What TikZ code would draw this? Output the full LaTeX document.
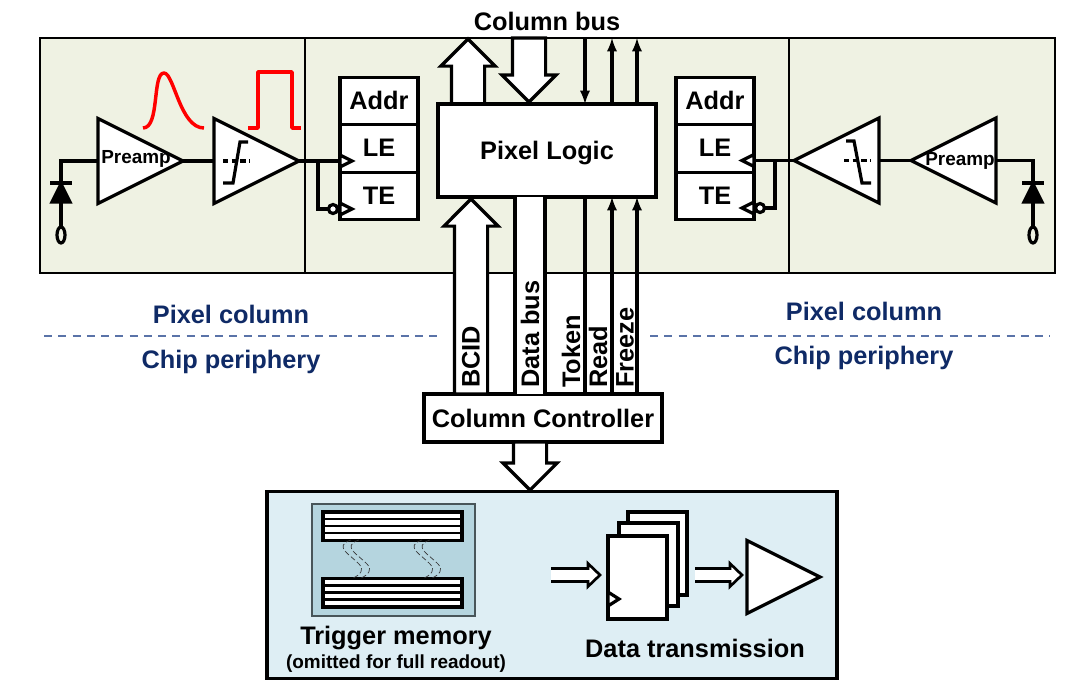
\documentclass[tikz,border=0pt]{standalone}
\usepackage{fontspec}
\setmainfont{Liberation Sans}
\usepackage{xcolor}
\usepackage{tikz}
\usetikzlibrary{positioning, shapes, shapes.geometric, shapes.arrows, arrows}
\definecolor{panelgreen}{HTML}{EFF2E3}
\definecolor{panelblue}{HTML}{DEEEF4}
\definecolor{memblue}{HTML}{B5D5DF}
\definecolor{labelnavy}{HTML}{0F2A66}
\definecolor{dashblue}{HTML}{5A73A8}
\def\px{0.75pt}
\begin{document}
\begin{tikzpicture}[x=0.75pt, y=-0.75pt, node distance=0pt, line join=miter,
    wire/.style={line width=2.4pt},
    lbl/.style={font=\bfseries\fontsize{19}{22}\selectfont, inner sep=0pt},
    small_lbl/.style={font=\bfseries\fontsize{14.2}{17}\selectfont, inner sep=0pt},
    vert_lbl/.style={lbl, rotate=90, anchor=west},
    navy_lbl/.style={lbl, text=labelnavy},
    cell/.style={draw, wire, fill=white, minimum width=78*\px, minimum height=47.5*\px, inner sep=0pt, outer sep=0pt, lbl, text depth=1pt},
    amp/.style={draw, wire, fill=white, isosceles triangle, isosceles triangle stretches, inner sep=0pt, outer sep=0pt, minimum width=85*\px, minimum height=85*\px},
    clk/.style={draw, wire, fill=white, isosceles triangle, isosceles triangle stretches, inner sep=0pt, outer sep=0pt, minimum width=12*\px, minimum height=12*\px},
    bubble/.style={draw, wire, fill=white, circle, inner sep=0pt, outer sep=0pt, minimum size=9*\px},
    diode/.style={draw, wire, fill=black, isosceles triangle, isosceles triangle stretches, shape border rotate=90, inner sep=0pt, outer sep=0pt, minimum width=18*\px, minimum height=18*\px},
    pad/.style={draw, wire, ellipse, inner sep=0pt, outer sep=0pt, minimum width=8*\px, minimum height=16*\px},
    bigarrow/.style={draw, wire, fill=white, single arrow, single arrow head extend=10.5*\px, inner xsep=0pt, inner ysep=15*\px, outer sep=0pt},
    thin_arrow/.style={wire, -latex},
    ffbox/.style={draw, wire, fill=white, anchor=north west, inner sep=0pt, outer sep=0pt, minimum width=59*\px, minimum height=83*\px},
    membar/.style={draw, wire, fill=white, anchor=north west, inner sep=0pt, outer sep=0pt, minimum width=139*\px, minimum height=28.5*\px},
    wave/.style={black!80, line width=0.5pt, dashed, dash pattern=on 4pt off 2pt},
    sep_dash/.style={dashblue, line width=1.4pt, dash pattern=on 6pt off 4.7pt},
    pulse/.style={red, line width=2.6pt, line join=round}]
  \useasboundingbox (0,0) rectangle (1090,687);

  \node (column_bus) [lbl] at (547,21) {Column bus};
  \node (panel_top) [draw, line width=1.4pt, fill=panelgreen, anchor=north west, inner sep=0pt, outer sep=0pt, minimum width=1015*\px, minimum height=235*\px] at (40,38) {};
  \draw [line width=1.6pt] (305,38) -- (305,273);
  \draw [line width=1.6pt] (789,38) -- (789,273);
  \node (panel_bottom) [draw, wire, fill=panelblue, anchor=north west, inner sep=0pt, outer sep=0pt, minimum width=570*\px, minimum height=187*\px] at (267,491.5) {};

  % left channel
  \node (preamp_l) [amp, anchor=lower side] at (98,161) {};
  \node [small_lbl] at (136,159) {Preamp};
  \node (comp_l) [amp, anchor=lower side] at (214,161) {};
  \node (diode_l) [diode, anchor=apex] at (61,184) {};
  \node (pad_l) [pad] at (61,235) {};
  \draw [wire] (preamp_l.lower side) -| (diode_l.apex);
  \draw [wire] (50,183) -- (72,183);
  \draw [wire] (diode_l.lower side) -- (pad_l.north);
  \draw [wire] (preamp_l.apex) -- (comp_l.lower side);
  \draw [wire, dashed, dash pattern=on 4pt off 2.5pt] (223,161) -- (250,161);
  \draw [wire] (223,183) -- (233,183) -- (240,142) -- (248,142);
  \draw [pulse] (143,128) .. controls (160,128) and (152,73) .. (164,73) .. controls (174,73) and (180,128) .. (204,128);
  \draw [pulse] (248,128) -- (258,128) -- (258,72) -- (292,72) -- (292,128) -- (301,128);

  \node (addr_l) [cell] at (379,101) {Addr};
  \node (le_l) [cell, below=of addr_l] {LE};
  \node (te_l) [cell, below=of le_l] {TE};
  \node (clk_le_l) [clk, anchor=lower side] at (340,161) {};
  \node (clk_te_l) [clk, anchor=lower side] at (340,209) {};
  \node (bubble_l) [bubble] at (333,209) {};
  \coordinate (tap_l) at (318,161);
  \draw [wire] (comp_l.apex) -- (clk_le_l.lower side);
  \draw [wire] (tap_l) |- (bubble_l.west);

  % right channel
  \node (preamp_r) [amp, shape border rotate=180, anchor=lower side] at (996,160.5) {};
  \node [small_lbl] at (960,161) {Preamp};
  \node (comp_r) [amp, shape border rotate=180, anchor=lower side] at (879,160.5) {};
  \node (diode_r) [diode, anchor=apex] at (1033,184) {};
  \node (pad_r) [pad] at (1033,235) {};
  \draw [wire] (preamp_r.lower side) -| (diode_r.apex);
  \draw [wire] (1022,183) -- (1044,183);
  \draw [wire] (diode_r.lower side) -- (pad_r.north);
  \draw [wire] (preamp_r.apex) -- (comp_r.lower side);
  \draw [wire, dashed, dash pattern=on 4pt off 2.5pt] (844,160.5) -- (871,160.5);
  \draw [wire] (846,141) -- (854,141) -- (862,183) -- (871,183);

  \node (addr_r) [cell] at (715,101) {Addr};
  \node (le_r) [cell, below=of addr_r] {LE};
  \node (te_r) [cell, below=of le_r] {TE};
  \node (clk_le_r) [clk, shape border rotate=180, anchor=lower side] at (754,160.5) {};
  \node (clk_te_r) [clk, shape border rotate=180, anchor=lower side] at (754,208) {};
  \node (bubble_r) [bubble] at (760,208) {};
  \coordinate (tap_r) at (775,160.5);
  \draw [wire] (comp_r.apex) -- (clk_le_r.lower side);
  \draw [wire] (tap_r) |- (bubble_r.east);

  % pixel logic and column signals
  \node (bus_up) [bigarrow, rotate=90, minimum height=65*\px, anchor=tail] at (468,104) {};
  \node (bus_down) [bigarrow, rotate=-90, minimum height=64*\px, anchor=tail] at (529,38) {};
  \node (pixel_logic) [draw, wire, fill=white, lbl, text depth=0pt, minimum width=218*\px, minimum height=93*\px, outer sep=0pt] at (547,150.5) {Pixel Logic};
  \node (column_ctrl) [draw, wire, fill=white, lbl, minimum width=238*\px, minimum height=48*\px, outer sep=0pt] at (543,418) {Column Controller};
  \node (bcid_arrow) [bigarrow, rotate=90, minimum height=195*\px, anchor=tail] at (471,394) {};
  \node (data_bus) [fill=white, anchor=north west, inner sep=0pt, outer sep=0pt, minimum width=30*\px, minimum height=197*\px] at (515,197) {};
  \draw [wire] (data_bus.north west) -- (data_bus.south west);
  \draw [wire] (data_bus.north east) -- (data_bus.south east);
  \node (ctrl_out) [bigarrow, rotate=-90, minimum height=48*\px, anchor=tail] at (530,442) {};

  \coordinate (bus_token) at (585,38);
  \coordinate (bus_read) at (612,38);
  \coordinate (bus_freeze) at (637,38);
  \draw [thin_arrow] (bus_token) -- (bus_token |- pixel_logic.north);
  \draw [thin_arrow] (bus_read |- pixel_logic.north) -- (bus_read);
  \draw [thin_arrow] (bus_freeze |- pixel_logic.north) -- (bus_freeze);
  \draw [wire] (bus_token |- pixel_logic.south) -- (bus_token |- column_ctrl.north);
  \draw [thin_arrow] (bus_read |- column_ctrl.north) -- (bus_read |- pixel_logic.south);
  \draw [thin_arrow] (bus_freeze |- column_ctrl.north) -- (bus_freeze |- pixel_logic.south);

  \node (lbl_bcid) [vert_lbl] at (471,388) {BCID};
  \node (lbl_data) [vert_lbl] at (530,388) {Data bus};
  \node (lbl_token) [vert_lbl] at (571,388) {Token};
  \node (lbl_read) [vert_lbl] at (598,388) {Read};
  \node (lbl_freeze) [vert_lbl] at (625,388) {Freeze};

  % region labels
  \node (pixel_col_l) [navy_lbl] at (231,314) {Pixel column};
  \node (chip_per_l) [navy_lbl] at (231,362) {Chip periphery};
  \node (pixel_col_r) [navy_lbl] at (864,311) {Pixel column};
  \node (chip_per_r) [navy_lbl] at (864,358) {Chip periphery};
  \draw [sep_dash] (44,336) -- (442,336);
  \draw [sep_dash] (650,336) -- (1050,336);

  % trigger memory
  \node (mem_back) [draw=black!60!memblue, line width=1pt, fill=memblue, anchor=north west, inner sep=0pt, outer sep=0pt, minimum width=163*\px, minimum height=112*\px] at (312,504) {};
  \node (mem_top) [membar] at (323,512) {};
  \node (mem_low) [membar] at (323,578.5) {};
  \foreach \y in {519,526,533} {
    \draw [line width=1.8pt] (323,\y) -- (462,\y);
    \draw [line width=1.8pt] (323,\y+66.5) -- (462,\y+66.5);
  }
  \foreach \x in {0,8,71,79} {
    \draw [wave] (351+\x,540) .. controls (332+\x,546) and (352+\x,556) .. (359+\x,564) .. controls (365+\x,570) and (360+\x,575) .. (353+\x,578);
  }
  \node (trigger_mem) [lbl] at (396,638) {Trigger memory};
  \node (trigger_note) [small_lbl] at (396,664) {(omitted for full readout)};

  % data transmission
  \node (ff_back) [ffbox] at (628,512) {};
  \node (ff_mid) [ffbox] at (619,523) {};
  \node (ff_front) [ffbox] at (608,536) {};
  \node (clk_ff) [clk, anchor=lower side, minimum width=14*\px, minimum height=11*\px] at (608,599) {};
  \node (tx_amp) [amp, anchor=lower side, minimum width=73*\px, minimum height=73*\px] at (747,577) {};
  \coordinate (mem_out) at (551,575);
  \coordinate (ff_out) at (695,575);
  \draw [wire, line width=2pt, fill=white] (mem_out) ++(0,-6.5) -- ++(37,0) -- ++(0,-5) -- ++(12,11.5) -- ++(-12,11.5) -- ++(0,-5) -- ++(-37,0);
  \draw [wire, line width=2pt, fill=white] (ff_out) ++(0,-6.5) -- ++(35,0) -- ++(0,-5) -- ++(12,11.5) -- ++(-12,11.5) -- ++(0,-5) -- ++(-35,0);
  \node (data_tx) [lbl] at (695,648) {Data transmission};
\end{tikzpicture}
\end{document}
